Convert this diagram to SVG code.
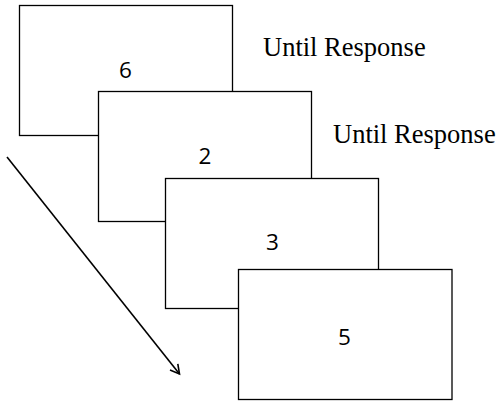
<svg xmlns="http://www.w3.org/2000/svg" width="499" height="403" viewBox="0 0 499 403">
<style>
.card{fill:#fff;stroke:#000;stroke-width:1.3}
.num{font-family:"Open Sans","Liberation Sans",sans-serif;font-size:22.5px;fill:#000;text-anchor:middle}
.lbl{font-family:"Liberation Serif",serif;font-size:26.5px;fill:#000}
.conn{stroke:#000;stroke-width:1.6;fill:none}
</style>
<defs>
<marker id="arr" markerWidth="12" markerHeight="12" refX="10" refY="6" orient="auto" markerUnits="userSpaceOnUse">
<path d="M1,1 L10,6 L1,11" fill="none" stroke="#000" stroke-width="1.6"/>
</marker>
</defs>
<g id="card1"><rect class="card" x="19.5" y="5.5" width="213" height="130"/><text class="num" x="125.5" y="77.5">6</text></g>
<g id="card2"><rect class="card" x="98.5" y="91.5" width="213" height="130"/><text class="num" x="205" y="164">2</text></g>
<g id="card3"><rect class="card" x="165.5" y="178.5" width="213" height="130"/><text class="num" x="272.5" y="250">3</text></g>
<g id="card4"><rect class="card" x="238.5" y="269.5" width="213.5" height="130"/><text class="num" x="344.5" y="345">5</text></g>
<g id="label1"><text class="lbl" x="263" y="56">Until Response</text></g>
<g id="label2"><text class="lbl" x="333" y="143">Until Response</text></g>
<g id="connectors"><line class="conn" x1="7" y1="157" x2="179.5" y2="374" marker-end="url(#arr)"/></g>
</svg>
